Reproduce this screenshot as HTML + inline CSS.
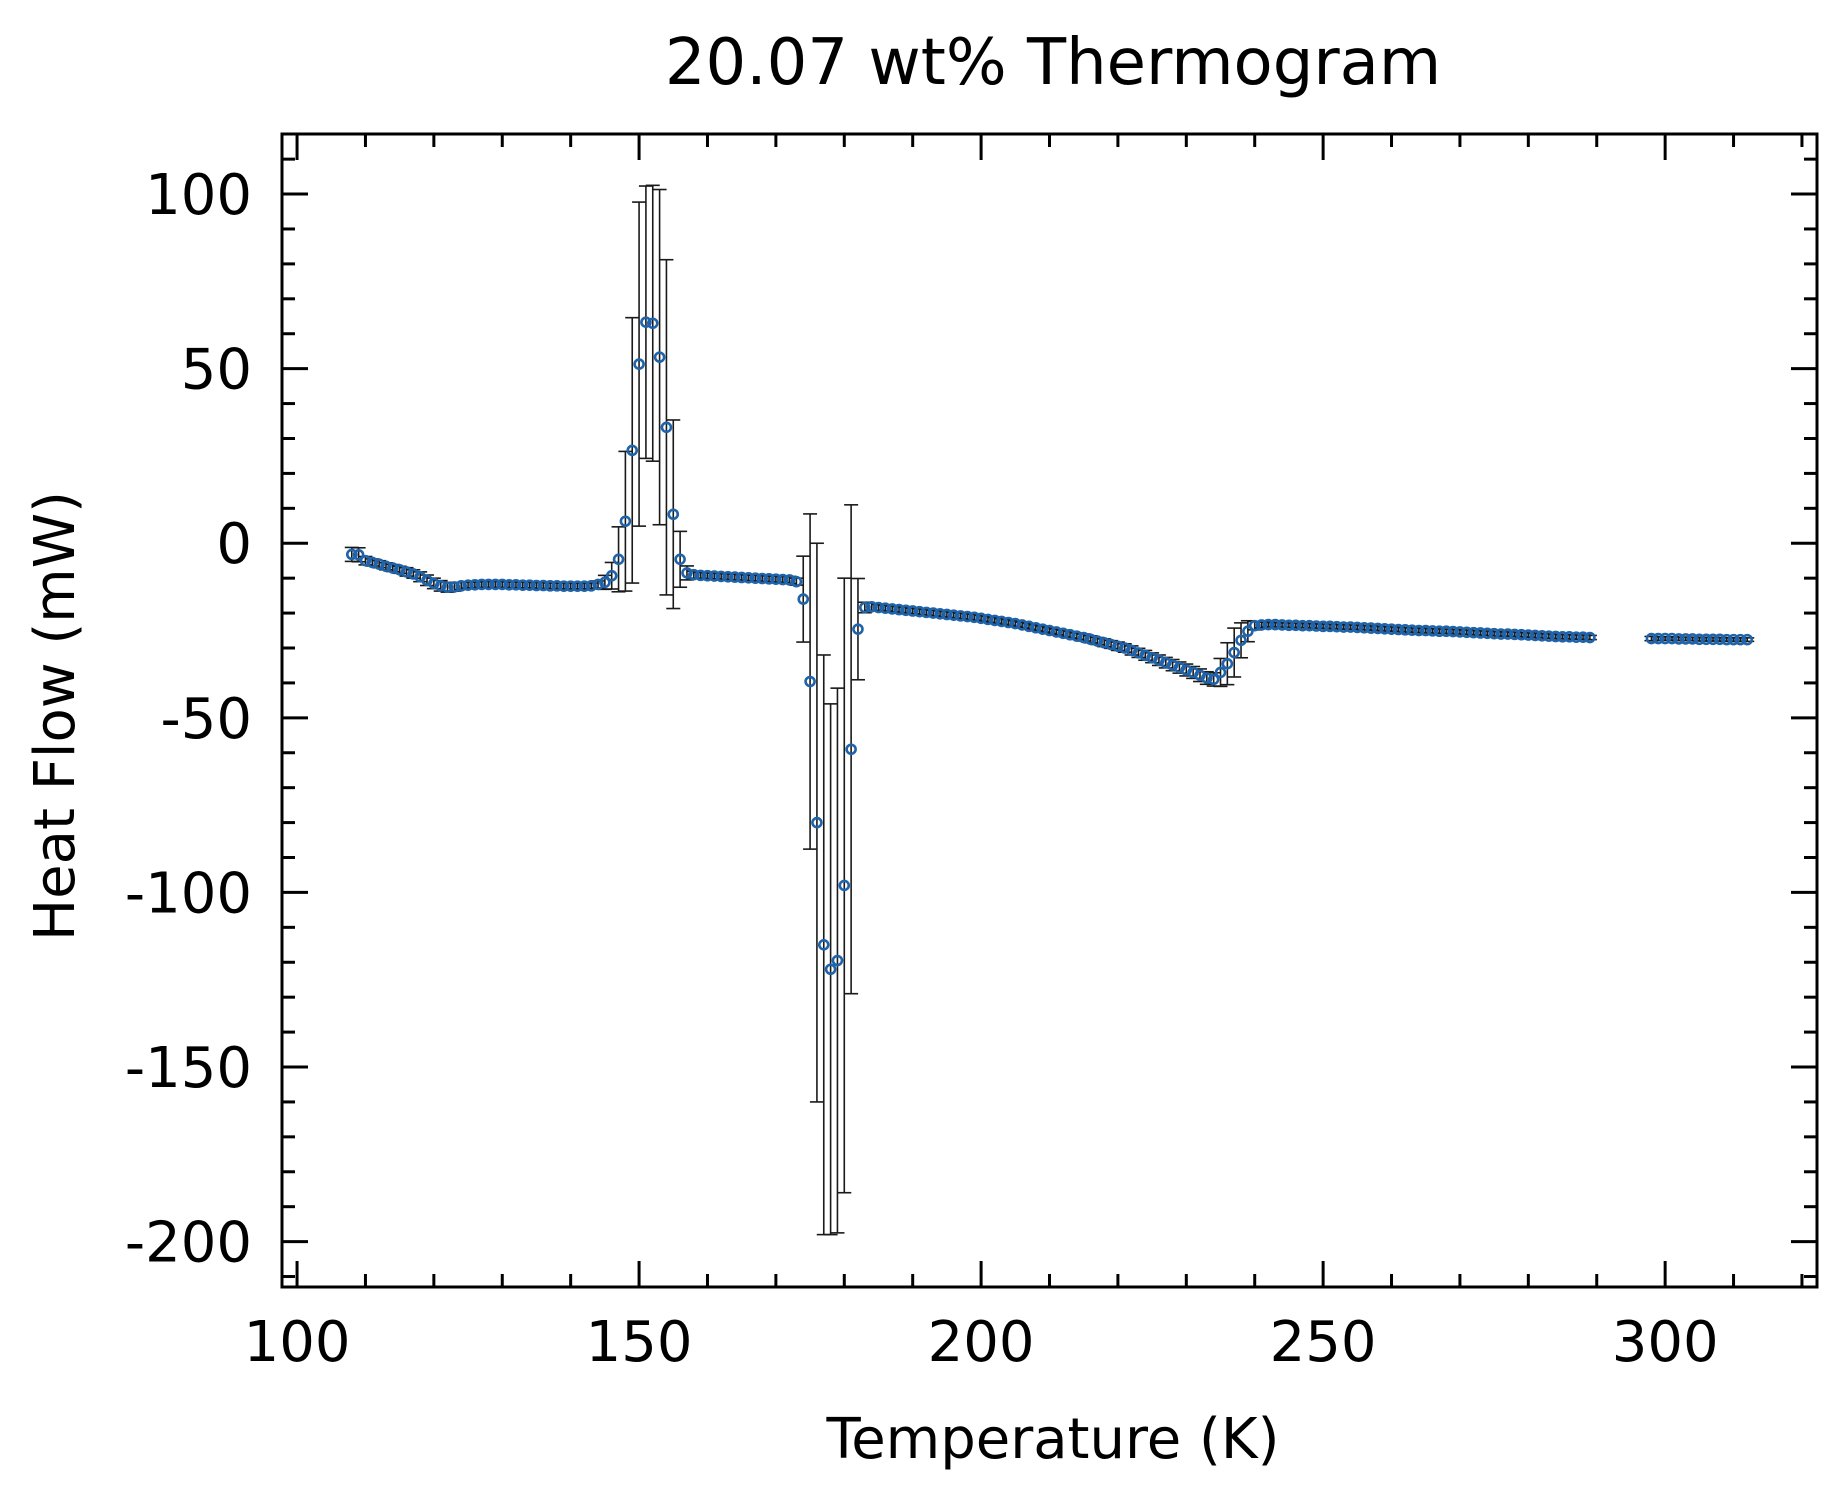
<!DOCTYPE html>
<html><head><meta charset="utf-8">
<style>
html,body{margin:0;padding:0;background:#fff;}
svg{display:block;font-family:"DejaVu Sans","Liberation Sans",sans-serif;}
</style></head>
<body>
<svg id="chart" width="1846" height="1494" viewBox="0 0 1846 1494" xmlns="http://www.w3.org/2000/svg">
<rect x="0" y="0" width="1846" height="1494" fill="#fff"/>
<text x="1053" y="84" font-size="64" text-anchor="middle">20.07 wt% Thermogram</text>
<text x="1053" y="1458" font-size="56" text-anchor="middle">Temperature (K)</text>
<text transform="translate(74,716) rotate(-90)" font-size="56" text-anchor="middle">Heat Flow (mW)</text>
<g id="ticks"></g>
<g id="errs"></g>
<g id="pts"></g>
<rect x="282" y="134" width="1535" height="1153" fill="none" stroke="#000" stroke-width="3"/>
</svg>
<script>
const temps1 = [108,109,110,111,112,113,114,115,116,117,118,119,120,121,122,123,124,125,126,127,128,129,130,131,132,133,134,135,136,137,138,139,140,141,142,143,144,145,146,147,148,149,150,151,152,153,154,155,156,157,158,159,160,161,162,163,164,165,166,167,168,169,170,171,172,173,174,175,176,177,178,179,180,181,182,183,184,185,186,187,188,189,190,191,192,193,194,195,196,197,198,199,200,201,202,203,204,205,206,207,208,209,210,211,212,213,214,215,216,217,218,219,220,221,222,223,224,225,226,227,228,229,230,231,232,233,234,235,236,237,238,239,240,241,242,243,244,245,246,247,248,249,250,251,252,253,254,255,256,257,258,259,260,261,262,263,264,265,266,267,268,269,270,271,272,273,274,275,276,277,278,279,280,281,282,283,284,285,286,287,288,289,298,299,300,301,302,303,304,305,306,307,308,309,310,311,312];
const heatFlow = [-3.2,-3.3,-5.0,-5.5,-6.0,-6.6,-7.1,-7.6,-8.2,-8.8,-9.6,-10.6,-11.5,-12.2,-12.6,-12.5,-12.2,-12.0,-11.9,-11.8,-11.8,-11.8,-11.8,-11.9,-11.9,-12.0,-12.0,-12.1,-12.1,-12.2,-12.2,-12.3,-12.3,-12.3,-12.3,-12.2,-11.8,-11.2,-9.3,-4.6,6.3,26.6,51.3,63.3,63.0,53.3,33.2,8.3,-4.6,-8.5,-9.0,-9.2,-9.3,-9.4,-9.5,-9.6,-9.7,-9.8,-9.9,-10.0,-10.1,-10.2,-10.3,-10.4,-10.5,-11.0,-16.0,-39.6,-80.0,-115.0,-122.0,-119.5,-98.0,-59.0,-24.6,-18.4,-18.2,-18.4,-18.6,-18.8,-19.0,-19.2,-19.4,-19.6,-19.8,-20.0,-20.2,-20.4,-20.6,-20.8,-21.0,-21.2,-21.5,-21.8,-22.1,-22.4,-22.7,-23.0,-23.4,-23.8,-24.2,-24.6,-25.0,-25.4,-25.8,-26.2,-26.6,-27.0,-27.5,-28.0,-28.5,-29.0,-29.5,-30.0,-30.7,-31.4,-32.1,-32.8,-33.5,-34.2,-34.9,-35.6,-36.3,-37.0,-37.8,-38.6,-39.0,-37.0,-34.5,-31.3,-27.8,-25.2,-23.6,-23.4,-23.3,-23.3,-23.4,-23.5,-23.5,-23.6,-23.6,-23.7,-23.8,-23.8,-23.9,-24.0,-24.0,-24.1,-24.2,-24.3,-24.4,-24.5,-24.6,-24.7,-24.8,-24.9,-25.0,-25.0,-25.1,-25.2,-25.2,-25.3,-25.4,-25.5,-25.6,-25.7,-25.8,-25.9,-26.0,-26.0,-26.1,-26.2,-26.3,-26.4,-26.5,-26.6,-26.7,-26.8,-26.8,-26.9,-26.9,-27.0,-27.3,-27.3,-27.3,-27.3,-27.4,-27.4,-27.4,-27.5,-27.5,-27.5,-27.5,-27.6,-27.6,-27.6,-27.6];
const errHalf = [2.0,2.0,1.2,1.0,1.0,1.0,1.0,1.0,1.2,1.2,1.4,1.5,1.5,1.5,1.4,1.2,1.0,0.8,0.8,0.8,0.8,0.8,0.8,0.8,0.8,0.8,0.8,0.8,0.8,0.8,0.8,0.8,0.8,0.8,0.8,0.8,1.0,2.0,3.8,9.3,20.0,38.0,46.4,39.0,39.5,48.0,48.0,27.0,8.0,2.0,1.0,0.8,0.8,0.8,0.8,0.8,0.8,0.8,0.8,0.8,0.8,0.8,0.8,0.8,1.0,1.0,12.3,48.0,80.0,83.0,76.0,78.0,88.0,70.0,14.5,1.5,1.0,0.8,0.8,0.8,0.8,0.8,0.8,0.8,0.8,0.8,0.8,0.8,0.8,0.8,0.8,0.8,0.8,0.8,0.8,0.8,0.8,0.8,0.8,0.8,0.8,0.8,0.8,0.8,0.9,0.9,0.9,1.0,1.0,1.0,1.1,1.1,1.2,1.2,1.3,1.3,1.4,1.4,1.5,1.5,1.6,1.6,1.7,1.7,1.8,1.8,1.9,4.0,6.0,7.0,5.0,3.0,1.2,0.8,0.6,0.6,0.6,0.6,0.6,0.6,0.6,0.6,0.6,0.6,0.6,0.6,0.6,0.6,0.6,0.6,0.6,0.6,0.6,0.6,0.6,0.6,0.6,0.6,0.6,0.6,0.6,0.6,0.6,0.6,0.6,0.6,0.6,0.6,0.6,0.6,0.6,0.6,0.6,0.6,0.6,0.6,0.6,0.6,0.6,0.6,0.6,0.6,0.6,0.5,0.5,0.5,0.5,0.5,0.5,0.5,0.5,0.5,0.5,0.5,0.5,0.5,0.5,0.5];
const xTickValues = [100,150,200,250,300];
const xTickLabels = ["100","150","200","250","300"];
const yTickValues = [100,50,0,-50,-100,-150,-200];
const yTickLabels = ["100","50","0","-50","-100","-150","-200"];

const L=282,R=1817,T=134,B=1287;
const xMin=97.8,xMax=322.2,yMin=-213,yMax=117.2;
function sx(v){return L+(v-xMin)/(xMax-xMin)*(R-L);}
function sy(v){return B-(v-yMin)/(yMax-yMin)*(B-T);}
const NS="http://www.w3.org/2000/svg";
function mk(tag,attrs,parent){const e=document.createElementNS(NS,tag);for(const k in attrs)e.setAttribute(k,attrs[k]);parent.appendChild(e);return e;}

const tg=document.getElementById('ticks');
for(let v=100;v<=320;v+=10){
  const x=sx(v), major=(v%50===0), len=major?26:13;
  const t1=mk('line',{x1:x,y1:B,x2:x,y2:B-len,stroke:'#000','stroke-width':3},tg);
  
  
  const t2=mk('line',{x1:x,y1:T,x2:x,y2:T+len,stroke:'#000','stroke-width':3},tg);
  
  
}
for(let v=-210;v<=110;v+=10){
  const y=sy(v), major=(v%50===0), len=major?26:13;
  const t1=mk('line',{x1:L,y1:y,x2:L+len,y2:y,stroke:'#000','stroke-width':3},tg);
  
  
  const t2=mk('line',{x1:R,y1:y,x2:R-len,y2:y,stroke:'#000','stroke-width':3},tg);
  
  
}
xTickValues.forEach((v,i)=>{
  const t=mk('text',{x:sx(v),y:1361,'font-size':56,'text-anchor':'middle'},tg);
  t.textContent=xTickLabels[i];
  
  
});
yTickValues.forEach((v,i)=>{
  const t=mk('text',{x:252,y:sy(v)+20,'font-size':56,'text-anchor':'end'},tg);
  t.textContent=yTickLabels[i];
  
  
});

const pg=document.getElementById('pts'), eg=document.getElementById('errs');
const n=Math.min(temps1.length,heatFlow.length);
for(let i=0;i<n;i++){
  const tk=temps1[i];
  const x=sx(tk), y=sy(heatFlow[i]);
  const c=mk('circle',{cx:x,cy:y,r:4.5,fill:'none',stroke:'#1f63aa','stroke-width':2.6},pg);
  
  
  const e=(errHalf[i]===undefined)?0.5:errHalf[i];
  const y1=sy(heatFlow[i]+e), y2=sy(heatFlow[i]-e);
  const g=mk('g',{stroke:'#1a1a1a','stroke-width':1.6},eg);
  
  
  mk('line',{x1:x,y1:y1,x2:x,y2:y2},g);
  mk('line',{x1:x-7,y1:y1,x2:x+7,y2:y1},g);
  mk('line',{x1:x-7,y1:y2,x2:x+7,y2:y2},g);
}
</script>
</body></html>
